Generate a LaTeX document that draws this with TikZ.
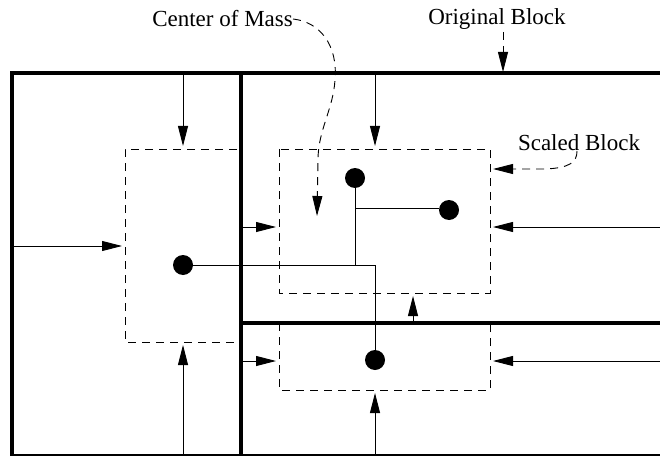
\documentclass[tikz,border=0pt]{standalone}
\usepackage{fontspec}
\setmainfont{Liberation Serif}
\usetikzlibrary{arrows.meta}
\begin{document}
\begin{tikzpicture}[x=1pt,y=-1pt,
  heavy/.style={line width=3.6pt},
  thin/.style={line width=0.9pt},
  dashbox/.style={line width=0.9pt,dash pattern=on 8pt off 6pt},
  push/.style={line width=0.9pt,-{Triangle[length=20pt,width=10pt]},shorten >=3pt},
  lead/.style={line width=0.9pt,dash pattern=on 8pt off 6pt,-{Triangle[length=20pt,width=10pt]}},
  dot/.style={circle,fill=black,inner sep=0pt,minimum size=20pt},
  lbl/.style={font=\fontsize{23}{27}\selectfont,inner sep=0pt}]
\useasboundingbox (0,0) rectangle (660,457);
% blocks
\draw[heavy] (12,455) -- (12,73) -- (660,73);
\draw[heavy] (241,73) -- (241,455);
\draw[heavy] (241,323) -- (660,323);
\draw[line width=1.8pt] (10,455) -- (660,455);
% scaled blocks
\draw[dashbox] (237,149) -- (125,149) -- (125,342) -- (237,342);
\draw[dashbox] (279,149) rectangle (490,293);
\draw[dashbox] (279,323) -- (279,390) -- (490,390) -- (490,323);
% named anchors
\coordinate (lt) at (183,149);
\coordinate (ll) at (125,246);
\coordinate (lb) at (183,342);
\coordinate (ul) at (279,227);
\coordinate (ut) at (375,149);
\coordinate (ur) at (490,227);
\coordinate (ub) at (413,293);
\coordinate (dl) at (279,361);
\coordinate (dr) at (490,361);
\coordinate (db) at (375,390);
\coordinate (lts) at (183,73);
\coordinate (lls) at (12,246);
\coordinate (lbs) at (183,455);
\coordinate (uls) at (241,227);
\coordinate (uts) at (375,73);
\coordinate (urs) at (660,227);
\coordinate (ubs) at (413,323);
\coordinate (dls) at (241,361);
\coordinate (drs) at (660,361);
\coordinate (dbs) at (375,455);
% force arrows
\draw[push] (lts) -- (lt);
\draw[push] (lls) -- (ll);
\draw[push] (lbs) -- (lb);
\draw[push] (uls) -- (ul);
\draw[push] (uts) -- (ut);
\draw[push] (urs) -- (ur);
\draw[push] (ubs) -- (ub);
\draw[push] (dls) -- (dl);
\draw[push] (drs) -- (dr);
\draw[push] (dbs) -- (db);
% masses
\node[dot] (m1) at (183,265) {};
\node[dot] (m2) at (355,178) {};
\node[dot] (m3) at (449,210) {};
\node[dot] (m4) at (375,360) {};
\coordinate (j1) at (355,265);
\coordinate (j2) at (375,265);
\coordinate (j3) at (355,208);
\draw[thin] (m1) -- (j2) -- (m4);
\draw[thin] (m2) -- (j1);
\draw[thin] (j3) -- (m3.west|-j3);
% labels
\node[lbl,anchor=east] (com) at (293,19) {Center of Mass};
\node[lbl] (ob) at (497,19) {Original Block};
\node[lbl] (sb) at (579,143) {Scaled Block};
\coordinate (comtip) at (317,216);
\coordinate (obtip) at (503,72);
\coordinate (sbtip) at (493,169);
\draw[lead] (com.east) .. controls (320,22) and (338,45) .. (335,80)
  .. controls (333,110) and (318,130) .. (318,160) -- (comtip);
\draw[lead] (503,32) -- (obtip);
\draw[lead] (577,151) .. controls (577,162) and (570,168) .. (545,169) -- (sbtip);
\end{tikzpicture}
\end{document}
